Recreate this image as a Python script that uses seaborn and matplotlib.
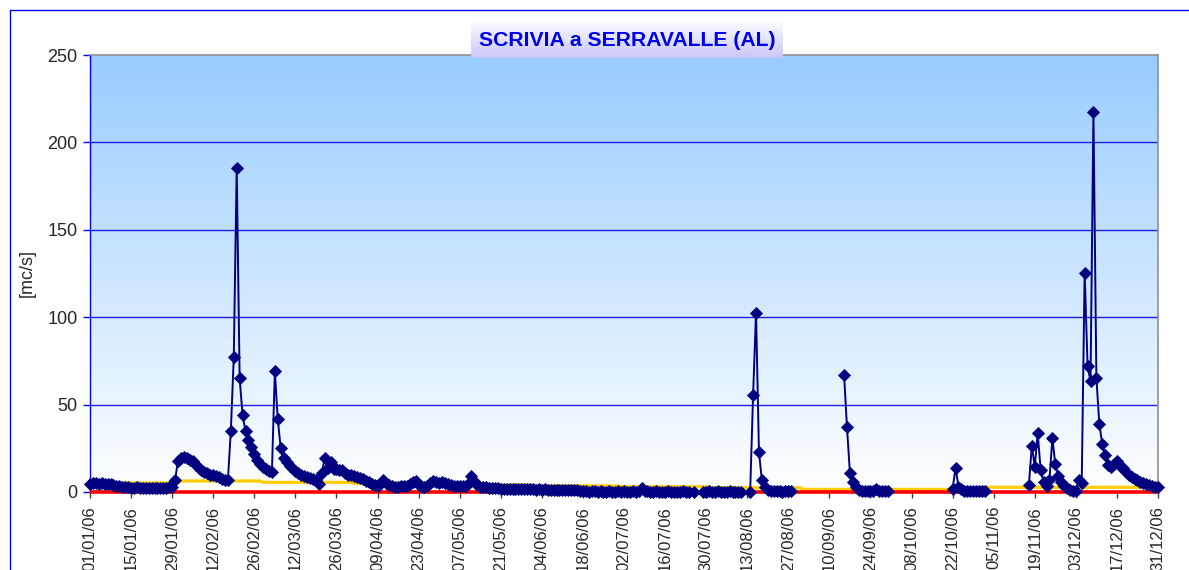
import numpy as np
import pandas as pd
import matplotlib
matplotlib.use("Agg")
import matplotlib.pyplot as plt
import seaborn as sns

# daily discharge [mc/s], one list per month (None = missing day)
jan = [4.5, 5.0, 5.2, 4.8, 4.9, 4.6, 4.7, 4.4, 4.0, 3.6, 3.3, 3.0, 2.8, 2.6, 2.5,
       2.4, 2.6, 2.3, 2.5, 2.4, 2.2, 2.5, 2.3, 2.4, 2.2, 2.5, 2.3, 2.6, 3.0, 7.0, 18.0]
feb = [19.5, 20.0, 19.5, 18.5, 17.5, 15.5, 14.0, 12.5, 11.5, 11.0, 10.0, 9.5, 9.0, 8.5,
       7.5, 7.0, 7.0, 35.0, 77.0, 185.5, 65.0, 44.0, 35.0, 30.0, 25.7, 21.5, 18.4, 16.1]
mar = [14.2, 12.9, 12.0, 11.3, 69.0, 41.5, 25.0, 19.6, 17.0, 15.0, 13.5, 12.0, 11.0,
       10.0, 9.2, 8.5, 7.8, 7.2, 6.6, 4.3, 10.8, 19.6, 14.0, 17.0, 13.3, 13.0, 12.8,
       12.5, 11.0, 10.0, 9.5]
apr = [9.0, 8.5, 8.0, 7.5, 6.5, 5.6, 4.8, 4.0, 3.7, 4.5, 6.6, 5.0, 4.0, 3.2, 3.0,
       3.0, 3.2, 3.5, 3.3, 4.5, 6.0, 6.5, 4.0, 3.0, 3.0, 3.5, 5.0, 6.5, 5.5, 5.0]
may = [5.6, 5.0, 4.5, 4.0, 3.7, 3.5, 3.5, 3.2, 3.5, 4.5, 9.0, 6.5, 4.0, 3.0, 2.7,
       2.6, 2.5, 2.5, 2.3, 2.2, 2.0, 2.0, 1.8, 2.0, 1.8, 1.7, 1.6, 1.8, 1.6, 1.5, 1.5]
jun = [1.5, 1.4, 1.6, 1.3, 1.5, 1.3, 1.2, 1.4, 1.2, 1.1, 1.3, 1.0, 1.1, 1.0, 0.9,
       1.0, 0.5, 0.3, 0.3, 0.2, 0.3, 0.3, 0.2, 0.3, 0.2, 0.2, 0.3, 0.2, 0.2, 0.3]
jul = [0.2, 0.3, 0.2, 0.2, 0.3, 0.2, 0.4, 2.4, 0.5, 0.3, 0.2, 0.2, 0.3, 0.2, 0.2,
       0.2, 0.3, 0.2, 0.2, 0.2, 0.2, 0.3, 0.2, 0.2, None, 0.1, None, None, 0.2, 0.2, 0.3]
aug = [0.2, 0.2, 0.3, 0.2, 0.2, 0.2, 0.3, 0.2, 0.2, 0.2, 0.2, None, None, 0.1,
       55.7, 102.6, 22.8, 6.6, 2.8, 1.2, 0.5, 0.3, 0.3, 0.3, 0.2, 0.3, 0.3, 0.3,
       None, None, None]
sep = [None] * 14 + [67.1, 37.1, 10.8, 5.6, 2.8, 1.2,
                     0.6, 0.4, 0.3, 0.3, 0.5, 1.5, 0.4, 0.3, 0.3, 0.3]
oct_ = [None] * 21 + [1.8, 13.9, 3.1, 1.5, 0.8, 0.3, 0.3, 0.3, 0.3, 0.3]
nov = [0.3, 0.3] + [None] * 14 + [4.1, 26.6, 14.2, 33.9, 12.7, 5.6, 3.7, 6.6, 30.8,
                                  15.8, 9.4, 5.6, 3.7, 2.5]
dec = [1.3, 0.8, 0.5, 6.6, 5.3, 125.5, 72.0, 63.3, 217.5, 65.2, 39.0, 27.2, 20.9,
       15.2, 14.2, 16.0, 18.0, 15.0, 13.5, 11.5, 9.8, 8.6, 7.6, 6.8, 6.0, 5.2, 4.5,
       4.0, 3.5, 3.1, 2.6]

# monthly thresholds (yellow) and lower limit (red)
soglia_mensile = [5.2, 6.3, 5.5, 5.0, 4.0, 3.5, 3.0, 2.4, 1.5, 1.5, 2.7, 2.7]
limite_minimo = 0.0

titolo = "SCRIVIA a SERRAVALLE (AL)"
unita = "[mc/s]"
y_ticks = [0, 50, 100, 150, 200, 250]

portate = jan + feb + mar + apr + may + jun + jul + aug + sep + oct_ + nov + dec
date = pd.date_range("2006-01-01", "2006-12-31", freq="D")

df = pd.DataFrame({"data": date, "portata": np.array(portate, dtype=float)})
df["soglia"] = [soglia_mensile[d.month - 1] for d in df["data"]]
df["minimo"] = limite_minimo
df["tratto"] = df["portata"].isna().cumsum()
misure = df.dropna(subset=["portata"])

sns.set_style("white")
plt.rcParams["font.family"] = ["Liberation Sans", "DejaVu Sans"]

fig = plt.figure(figsize=(11.89, 5.70), dpi=100)
ax = fig.add_axes([90 / 1189, 1 - 492 / 570, 1068 / 1189, 437 / 570])

# gradient background of plot area
grad = np.linspace(0, 1, 256)[:, None]
top = np.array([153, 204, 255]) / 255
bottom = np.array([255, 255, 255]) / 255
img = (top[None, None, :] * (1 - grad[..., None]) + bottom[None, None, :] * grad[..., None])
ax.imshow(img, extent=[0, 1, 0, 1], transform=ax.transAxes, aspect="auto", zorder=0)

for v in y_ticks[1:-1]:
    ax.axhline(v, color="#1E1EE6", lw=1.0, zorder=1)

sns.lineplot(data=df, x="data", y="soglia", ax=ax, color="#FFCC00", lw=2.3,
             zorder=4, clip_on=False)
ax.plot(df["data"], df["minimo"], color="#FF0000", lw=2.6, zorder=5,
        clip_on=False, solid_capstyle="butt")
sns.lineplot(data=misure, x="data", y="portata", units="tratto", estimator=None,
             ax=ax, color="#000080", lw=1.4, marker="D", markersize=6,
             markeredgecolor="#000080", markeredgewidth=0.6, zorder=6, clip_on=False)

ax.set_xlim(date[0], date[-1])
ax.set_ylim(0, 250)
ax.set_yticks(y_ticks)
ax.set_yticklabels([str(v) for v in y_ticks], fontsize=13)
tick_dates = pd.date_range("2006-01-01", "2006-12-31", freq="14D")
ax.set_xticks(tick_dates)
ax.set_xticklabels([d.strftime("%d/%m/%y") for d in tick_dates], rotation=90,
                   fontsize=12)
ax.set_xlabel("")
ax.set_ylabel("")
ax.grid(False)

ax.tick_params(axis="y", length=5, width=1, color="#0000FF", pad=4, left=True)
ax.tick_params(axis="x", length=4, width=1, color="#404040", pad=6, bottom=True)
ax.spines["left"].set_color("#0000FF")
ax.spines["left"].set_linewidth(1.0)
ax.spines["bottom"].set_visible(False)
for s in ["top", "right"]:
    ax.spines[s].set_color("#909090")
    ax.spines[s].set_linewidth(1.2)

fig.text(27 / 1189, 1 - 273 / 570, unita, rotation=90, fontsize=13,
         ha="center", va="center")

# title box with soft lavender gradient
tax = fig.add_axes([471 / 1189, 1 - 58 / 570, 312 / 1189, 36 / 570])
tgrad = np.linspace(0, 1, 64)[:, None]
c_top = np.array([250, 250, 255]) / 255
c_bot = np.array([200, 200, 248]) / 255
timg = c_top[None, None, :] * (1 - tgrad[..., None]) + c_bot[None, None, :] * tgrad[..., None]
tax.imshow(timg, extent=[0, 1, 0, 1], aspect="auto")
tax.set_axis_off()
tax.text(0.5, 0.5, titolo, ha="center", va="center", fontsize=15.2,
         fontweight="bold", color="#0000EE", transform=tax.transAxes)

# outer chart frame (left and top edges visible)
frame = plt.Rectangle((10 / 1189, -0.1), 1.2, 1.1 - 10 / 570,
                      transform=fig.transFigure, fill=False, edgecolor="#0000FF",
                      lw=1.0, zorder=10)
fig.patches.append(frame)

fig.savefig("out.png", dpi=100)
